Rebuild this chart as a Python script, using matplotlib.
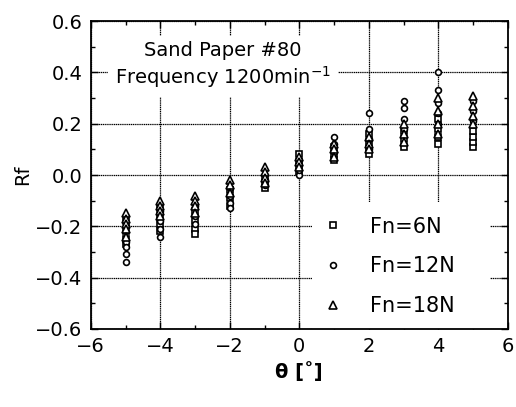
"""
Rf vs inclination angle for three normal loads, sand paper #80
"""

from matplotlib import pyplot as plt
from matplotlib.ticker import MultipleLocator
from matplotlib.patches import Rectangle

plt.rcParams['font.family'] = ['DejaVu Sans']

angles = [-5, -4, -3, -2, -1, 0, 1, 2, 3, 4, 5]

# Rf values, one list per angle
rf_6n = [
    [-0.18, -0.22, -0.25, -0.27],
    [-0.13, -0.16, -0.19, -0.22],
    [-0.14, -0.18, -0.21, -0.23],
    [-0.06, -0.09, -0.12],
    [-0.01, -0.03, -0.05],
    [0.01, 0.03, 0.05, 0.08],
    [0.06, 0.08, 0.11],
    [0.08, 0.10, 0.13, 0.16],
    [0.11, 0.14, 0.17],
    [0.12, 0.15, 0.18, 0.22],
    [0.11, 0.13, 0.15, 0.17],
]
rf_12n = [
    [-0.20, -0.26, -0.28, -0.31, -0.34],
    [-0.14, -0.18, -0.21, -0.24],
    [-0.12, -0.16, -0.19],
    [-0.05, -0.08, -0.11, -0.13],
    [-0.02, -0.04],
    [0.00, 0.02, 0.04, 0.06],
    [0.15, 0.12, 0.09],
    [0.24, 0.18, 0.14, 0.10],
    [0.29, 0.26, 0.22, 0.18],
    [0.40, 0.33, 0.28, 0.24, 0.20],
    [0.29, 0.25, 0.21],
]
rf_18n = [
    [-0.15, -0.17, -0.19, -0.21, -0.24],
    [-0.10, -0.12, -0.14, -0.16],
    [-0.08, -0.10, -0.12, -0.15],
    [-0.02, -0.04, -0.07],
    [0.03, 0.01, -0.01, -0.03],
    [0.07, 0.05, 0.03],
    [0.12, 0.10, 0.07],
    [0.15, 0.12, 0.10],
    [0.20, 0.16, 0.13],
    [0.30, 0.25, 0.20, 0.16],
    [0.31, 0.27, 0.23, 0.20],
]
labels = ["Fn=6N", "Fn=12N", "Fn=18N"]


def flatten(groups):
    xs, ys = [], []
    for a, vals in zip(angles, groups):
        xs += [a] * len(vals)
        ys += vals
    return xs, ys


fig = plt.figure(figsize=(5.16, 4.07), dpi=100)
ax = fig.add_axes([0.176, 0.192, 0.808, 0.756])

for grp, mk, ms, lab in [(rf_6n, 's', 4, labels[0]),
                         (rf_12n, 'o', 4.2, labels[1]),
                         (rf_18n, '^', 5.5, labels[2])]:
    x, y = flatten(grp)
    ax.plot(x, y, ls='none', marker=mk, ms=ms, mfc='white', mec='black',
            mew=1.2, label=lab, zorder=3)

ax.set_xlim(-6, 6)
ax.set_ylim(-0.6, 0.6)
ax.xaxis.set_major_locator(MultipleLocator(2))
ax.xaxis.set_minor_locator(MultipleLocator(1))
ax.yaxis.set_major_locator(MultipleLocator(0.2))
ax.yaxis.set_minor_locator(MultipleLocator(0.1))
ax.set_yticklabels([f"{v:.1f}".replace("-", "\u2212") for v in ax.get_yticks()])
ax.tick_params(which='both', direction='in', top=True, right=True,
               labelsize=14, width=1)
ax.tick_params(which='major', length=5, pad=6)
ax.tick_params(which='minor', length=3)
for s in ax.spines.values():
    s.set_linewidth(1.3)
ax.grid(True, which='major', color='black', lw=0.9, ls=(0, (1, 0.5)), zorder=1)

ax.set_xlabel("θ [˚]", fontsize=14, fontweight='bold', labelpad=4)
ax.set_ylabel("Rf", fontsize=14, labelpad=2)

ax.text(0.317, 0.857, "Sand Paper #80\nFrequency 1200min$^{-1}$",
        transform=ax.transAxes, ha='center', va='center', fontsize=14,
        linespacing=1.2, zorder=4,
        bbox=dict(facecolor='white', edgecolor='none', pad=5))

# white area behind the legend, hides the grid there
ax.add_patch(Rectangle((0.53, 0.0), 0.427, 0.412, transform=ax.transAxes,
                       facecolor='white', edgecolor='none', zorder=2))

leg = ax.legend(loc='upper left', bbox_to_anchor=(0.555, 0.365), fontsize=15,
                frameon=False, handletextpad=1.3, labelspacing=0.95,
                borderpad=0, handlelength=1.0, borderaxespad=0)
leg.set_zorder(5)

plt.savefig("out.png", dpi=100)
